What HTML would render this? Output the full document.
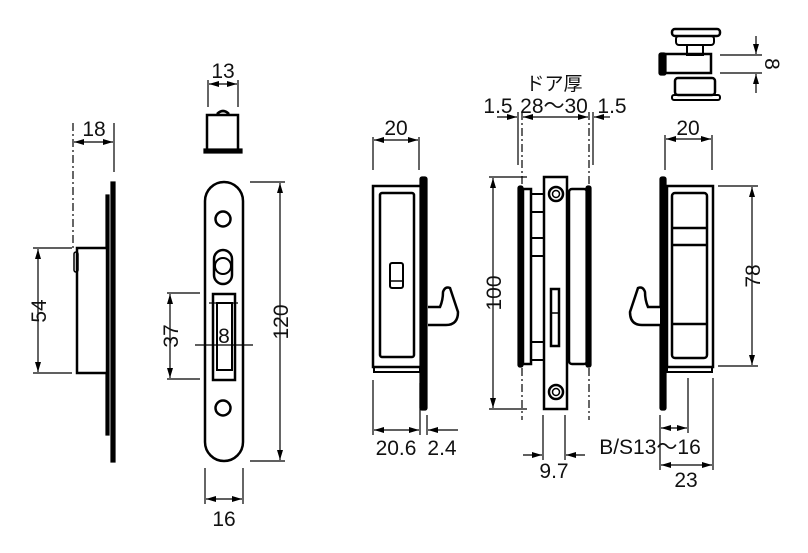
<!DOCTYPE html>
<html><head><meta charset="utf-8"><style>
html,body{margin:0;padding:0;background:#fff;width:808px;height:553px;overflow:hidden}
svg{display:block}
</style></head><body>
<svg width="808" height="553" viewBox="0 0 808 553" xmlns="http://www.w3.org/2000/svg">
<defs>
<marker id="a" viewBox="0 0 10 6" refX="10" refY="3" markerWidth="10" markerHeight="6" orient="auto-start-reverse" markerUnits="userSpaceOnUse"><path d="M0,0L10,3L0,6z" fill="#000"/></marker>
</defs>
<g stroke="#000" fill="none" stroke-width="1.2">
<line x1="73" y1="123" x2="73" y2="250" stroke-dasharray="8,3,2,3"/>
<line x1="114" y1="123" x2="114" y2="172"/>
<line x1="74" y1="142" x2="113" y2="142" marker-start="url(#a)" marker-end="url(#a)"/>
<rect x="111" y="182" width="4" height="280" fill="#000"/>
<rect x="106" y="195" width="3" height="240" fill="#000"/>
<rect x="77" y="248" width="30" height="125" stroke-width="2.5" fill="#fff"/>
<rect x="74" y="252" width="4" height="20" rx="2" stroke-width="1.5"/>
<line x1="33" y1="248" x2="72" y2="248"/>
<line x1="33" y1="373" x2="72" y2="373"/>
<line x1="38" y1="249" x2="38" y2="372" marker-start="url(#a)" marker-end="url(#a)"/>
<line x1="208" y1="80" x2="208" y2="107"/><line x1="238" y1="80" x2="238" y2="107"/>
<line x1="209" y1="84" x2="237" y2="84" marker-start="url(#a)" marker-end="url(#a)"/>
<rect x="207" y="115" width="31" height="35" stroke-width="2.5"/>
<path d="M217,114 Q223,108 229,114" stroke-width="2.5"/>
<rect x="204" y="149" width="38" height="4" fill="#000"/>
<rect x="205" y="182" width="38" height="279" rx="19" stroke-width="2.5"/>
<circle cx="223" cy="219" r="7.5" stroke-width="2.5"/>
<circle cx="223" cy="408" r="7.5" stroke-width="2.5"/>
<rect x="214" y="250" width="18" height="34" rx="9" stroke-width="2.5"/>
<circle cx="223" cy="266" r="8" stroke-width="2"/>
<rect x="213" y="294" width="22" height="86" stroke-width="2.5"/>
<rect x="217" y="303" width="15" height="67" stroke-width="2"/>
<line x1="209" y1="303" x2="238" y2="303"/>
<line x1="167" y1="293" x2="200" y2="293"/><line x1="167" y1="379" x2="200" y2="379"/>
<line x1="170" y1="294" x2="170" y2="378" marker-start="url(#a)" marker-end="url(#a)"/>
<line x1="195" y1="345" x2="253" y2="345"/>
<line x1="250" y1="182" x2="285" y2="182"/><line x1="250" y1="461" x2="285" y2="461"/>
<line x1="280" y1="183" x2="280" y2="460" marker-start="url(#a)" marker-end="url(#a)"/>
<line x1="205" y1="468" x2="205" y2="504"/><line x1="243" y1="468" x2="243" y2="504"/>
<line x1="206" y1="499" x2="242" y2="499" marker-start="url(#a)" marker-end="url(#a)"/>
<line x1="373" y1="137" x2="373" y2="170"/><line x1="419" y1="137" x2="419" y2="170"/>
<line x1="374" y1="140" x2="418" y2="140" marker-start="url(#a)" marker-end="url(#a)"/>
<rect x="373" y="186" width="48" height="181" stroke-width="2.5"/>
<rect x="380" y="193" width="34" height="164" rx="2" stroke-width="2.5"/>
<rect x="374" y="367" width="46" height="5" stroke-width="2"/>
<rect x="420" y="177" width="7" height="233" rx="2" fill="#000"/>
<rect x="390" y="263" width="13" height="25" rx="2" stroke-width="2"/>
<line x1="390" y1="281" x2="403" y2="281" stroke-width="1.5"/>
<path d="M428,307 L440,307 Q443,300 443,292 Q445,286 450,288 L458,312 Q458,325 446,325 L428,325" stroke-width="2.5" fill="#fff"/>
<line x1="373" y1="380" x2="373" y2="435"/><line x1="420" y1="383" x2="420" y2="435"/><line x1="427" y1="415" x2="427" y2="435"/>
<line x1="374" y1="430" x2="419" y2="430" marker-start="url(#a)" marker-end="url(#a)"/>
<line x1="458" y1="430" x2="428" y2="430" marker-end="url(#a)"/>
<line x1="522" y1="112" x2="522" y2="420" stroke-dasharray="8,3,2,3"/>
<line x1="589" y1="112" x2="589" y2="420" stroke-dasharray="8,3,2,3"/>
<line x1="518" y1="112" x2="518" y2="165"/><line x1="593" y1="112" x2="593" y2="165"/>
<line x1="497" y1="117" x2="517" y2="117" marker-end="url(#a)"/>
<line x1="523" y1="117" x2="588" y2="117" marker-start="url(#a)" marker-end="url(#a)"/>
<line x1="610" y1="117" x2="594" y2="117" marker-end="url(#a)"/>
<rect x="544" y="177" width="23" height="232" stroke-width="2.5"/>
<circle cx="556" cy="194" r="7" stroke-width="2.5"/><circle cx="556" cy="194" r="3.5" stroke-width="1.5"/>
<circle cx="556" cy="392" r="7" stroke-width="2.5"/><circle cx="556" cy="392" r="3.5" stroke-width="1.5"/>
<rect x="518" y="186" width="5" height="181" rx="2" fill="#000"/>
<rect x="523" y="189" width="8" height="175" stroke-width="2.5"/>
<rect x="531" y="194" width="13" height="18" stroke-width="2"/>
<rect x="531" y="238" width="13" height="18" stroke-width="2"/>
<rect x="531" y="342" width="13" height="18" stroke-width="2"/>
<rect x="569" y="189" width="18" height="175" rx="3" stroke-width="2.5"/>
<rect x="586" y="186" width="5" height="181" rx="2" fill="#000"/>
<rect x="551" y="289" width="8" height="57" stroke-width="2.5"/>
<line x1="551" y1="313" x2="559" y2="313" stroke-width="1.5"/>
<line x1="489" y1="177" x2="527" y2="177"/><line x1="489" y1="409" x2="527" y2="409"/>
<line x1="493" y1="178" x2="493" y2="408" marker-start="url(#a)" marker-end="url(#a)"/>
<line x1="543" y1="415" x2="543" y2="460"/><line x1="565" y1="415" x2="565" y2="460"/>
<line x1="523" y1="455" x2="542" y2="455" marker-end="url(#a)"/>
<line x1="585" y1="455" x2="566" y2="455" marker-end="url(#a)"/>
<rect x="672" y="29" width="48" height="7" rx="3" stroke-width="2.5"/>
<rect x="676" y="36" width="38" height="9" rx="3" stroke-width="2"/>
<rect x="687" y="45" width="16" height="10" stroke-width="2"/>
<rect x="665" y="54" width="46" height="19" stroke-width="2.5"/>
<rect x="659" y="53" width="7" height="22" rx="2" fill="#000"/>
<rect x="675" y="78" width="40" height="17" rx="3" stroke-width="2.5"/>
<rect x="672" y="95" width="48" height="5" rx="2" stroke-width="2"/>
<line x1="720" y1="55" x2="762" y2="55"/><line x1="720" y1="73" x2="762" y2="73"/>
<line x1="756" y1="36" x2="756" y2="54" marker-end="url(#a)"/>
<line x1="756" y1="93" x2="756" y2="74" marker-end="url(#a)"/>
<line x1="665" y1="135" x2="665" y2="170"/><line x1="712" y1="135" x2="712" y2="170"/>
<line x1="666" y1="139" x2="711" y2="139" marker-start="url(#a)" marker-end="url(#a)"/>
<rect x="660" y="177" width="6" height="233" rx="2" fill="#000"/>
<rect x="667" y="186" width="46" height="181" stroke-width="2.5"/>
<rect x="672" y="193" width="35" height="165" rx="3" stroke-width="2.5"/>
<line x1="672" y1="228" x2="707" y2="228" stroke-width="2.5"/>
<line x1="672" y1="245" x2="707" y2="245" stroke-width="2.5"/>
<line x1="672" y1="324" x2="707" y2="324" stroke-width="2.5"/>
<rect x="667" y="367" width="45" height="5" stroke-width="2"/>
<path d="M660,307 L648,307 Q645,300 645,292 Q643,286 638,288 L630,312 Q630,325 642,325 L660,325" stroke-width="2.5" fill="#fff"/>
<line x1="718" y1="186" x2="758" y2="186"/><line x1="718" y1="366" x2="758" y2="366"/>
<line x1="752" y1="187" x2="752" y2="365" marker-start="url(#a)" marker-end="url(#a)"/>
<line x1="660" y1="415" x2="660" y2="470"/><line x1="688" y1="378" x2="688" y2="433"/><line x1="713" y1="378" x2="713" y2="470"/>
<line x1="661" y1="428" x2="687" y2="428" marker-start="url(#a)" marker-end="url(#a)"/>
<line x1="661" y1="465" x2="712" y2="465" marker-start="url(#a)" marker-end="url(#a)"/>
</g>
<g font-family="Liberation Sans, Noto Sans CJK JP, sans-serif" font-size="21" fill="#111" style="font-size:21px">
<text x="94" y="136" text-anchor="middle">18</text>
<text transform="translate(46,311) rotate(-90)" text-anchor="middle">54</text>
<text x="223" y="78" text-anchor="middle">13</text>
<text transform="translate(178,336) rotate(-90)" text-anchor="middle">37</text>
<text x="224" y="343" text-anchor="middle">8</text>
<text transform="translate(288,322) rotate(-90)" text-anchor="middle">120</text>
<text x="224" y="526" text-anchor="middle">16</text>
<text x="396" y="135" text-anchor="middle">20</text>
<text x="396" y="455" text-anchor="middle">20.6</text>
<text x="442" y="455" text-anchor="middle">2.4</text>
<text x="554" y="90" text-anchor="middle" style="font-size:19px">ドア厚</text>
<text x="498" y="113" text-anchor="middle">1.5</text>
<text x="554" y="113" text-anchor="middle">28～30</text>
<text x="612" y="113" text-anchor="middle">1.5</text>
<text transform="translate(501,293) rotate(-90)" text-anchor="middle">100</text>
<text x="554" y="478" text-anchor="middle">9.7</text>
<text transform="translate(765,64) rotate(90)" text-anchor="middle">8</text>
<text x="688" y="135" text-anchor="middle">20</text>
<text transform="translate(760,276) rotate(-90)" text-anchor="middle">78</text>
<text x="650" y="454" text-anchor="middle">B/S13～16</text>
<text x="686" y="487" text-anchor="middle">23</text>
</g>
</svg>
</body></html>
